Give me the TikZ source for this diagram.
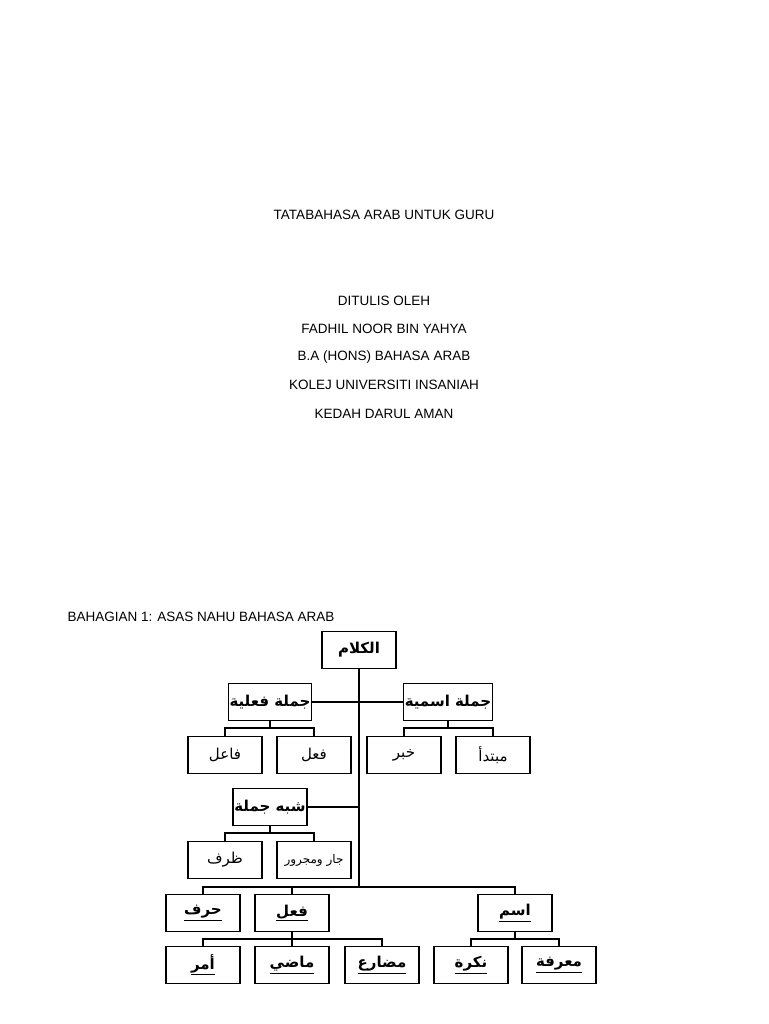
\documentclass[tikz,border=0pt]{standalone}
\usepackage{fontspec}
\setmainfont{Liberation Sans}
\newfontfamily\arabicfont[Script=Arabic]{DejaVu Sans}
\TeXXeTstate=1
\newcommand{\ar}[1]{{\arabicfont\beginR #1\endR}}
\newcommand{\arb}[1]{{\arabicfont\bfseries\beginR #1\endR}}
\newcommand{\aru}[1]{\underline{\arabicfont\bfseries\beginR #1\endR}}
\begin{document}
\begin{tikzpicture}[x=1pt,y=-1pt,
  box/.style={draw,line width=1.2pt,minimum width=74pt,minimum height=37pt,inner sep=1pt,font=\fontsize{15}{18}\selectfont},
  ttl/.style={font=\fontsize{13.5}{16}\selectfont},
  ln/.style={line width=1.2pt}]
\useasboundingbox (0,0) rectangle (768,1024);
\fill[white] (0,0) rectangle (768,1024);
\node[ttl] (t1) at (384,215) {TATABAHASA ARAB UNTUK GURU};
\node[ttl] (t2) at (384,301) {DITULIS OLEH};
\node[ttl] (t3) at (384,329) {FADHIL NOOR BIN YAHYA};
\node[ttl] (t4) at (384,357) {B.A (HONS) BAHASA ARAB};
\node[ttl] (t5) at (384,385) {KOLEJ UNIVERSITI INSANIAH};
\node[ttl] (t6) at (384,414) {KEDAH DARUL AMAN};
\node[ttl,anchor=west] (t7) at (64,617) {BAHAGIAN 1: ASAS NAHU BAHASA ARAB};

\node[box] (root) at (359,650) {\arb{الكلام}};
\node[box] (jf) at (270,702) {\arb{جملة فعلية}};
\node[box] (ji) at (448,702) {\arb{جملة اسمية}};
\node[box] (fa) at (225,755) {\ar{فاعل}};
\node[box] (fi) at (314,755) {\ar{فعل}};
\node[box] (kh) at (404,755) {\ar{خبر}};
\node[box] (mb) at (493,755) {\ar{مبتدأ}};
\node[box] (sj) at (270,807) {\arb{شبه جملة}};
\node[box] (zr) at (225,860) {\ar{ظرف}};
\node[box,font=\fontsize{12}{14}\selectfont] (jm) at (314,860) {\ar{جار ومجرور}};
\node[box] (hr) at (203,913) {\aru{حرف}};
\node[box] (fl) at (292,913) {\aru{فعل}};
\node[box] (is) at (515,913) {\aru{اسم}};
\node[box] (am) at (203,965) {\aru{أمر}};
\node[box] (md) at (292,965) {\aru{ماضي}};
\node[box] (mu) at (382,965) {\aru{مضارع}};
\node[box] (nk) at (471,965) {\aru{نكرة}};
\node[box] (mr) at (559,965) {\aru{معرفة}};

\coordinate (trunk) at (359,887);
\draw[ln] (root.south) -- (trunk);
\draw[ln] (jf.east) -- (ji.west);
\draw[ln] (sj.east) -- (359,807);
% children of jumla filiyya
\draw[ln] (jf.south) -- (270,728);
\draw[ln] (fa.north) |- (270,728) -| (fi.north);
\draw[ln] (ji.south) -- (448,728);
\draw[ln] (kh.north) |- (448,728) -| (mb.north);
\draw[ln] (sj.south) -- (270,833);
\draw[ln] (zr.north) |- (270,833) -| (jm.north);
% bottom
\draw[ln] (hr.north) |- (trunk) -| (is.north);
\draw[ln] (fl.north) -- (292,887);
\draw[ln] (fl.south) -- (292,939);
\draw[ln] (am.north) |- (292,939) -| (mu.north);
\draw[ln] (md.north) -- (292,939);
\draw[ln] (is.south) -- (515,939);
\draw[ln] (nk.north) |- (515,939) -| (mr.north);
\end{tikzpicture}
\end{document}
